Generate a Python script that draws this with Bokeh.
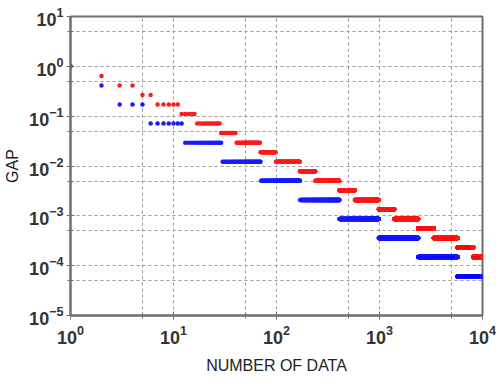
import numpy as np
from bokeh.plotting import figure
from bokeh.models import FixedTicker
from bokeh.embed import file_html
from bokeh.resources import INLINE

# Step segments: first N, last N, gap value
blue_start = [1, 2, 3, 6, 13, 30, 71, 170, 409, 986, 2379, 5742]
blue_end = [1, 2, 5, 12, 29, 70, 169, 408, 985, 2378, 5741, 10000]
blue_gap = [1.0, 0.414, 0.172, 0.0711, 0.0294, 0.0122, 0.00505, 0.00209,
            0.000867, 0.000359, 0.000149, 0.0000616]

red_start = [1, 2, 3, 5, 7, 12, 17, 29, 41, 70, 99, 169, 239, 408, 577, 985,
             1393, 2378, 3363, 5741, 8119]
red_end = [1, 2, 4, 6, 11, 16, 28, 40, 69, 98, 168, 238, 407, 576, 984, 1392,
           2377, 3362, 5740, 8118, 10000]
red_gap = [1.0, 0.643, 0.414, 0.267, 0.172, 0.110, 0.0711, 0.0457, 0.0294,
           0.0189, 0.0122, 0.00785, 0.00505, 0.00325, 0.00209, 0.00135,
           0.000867, 0.000557, 0.000359, 0.000231, 0.000149]

x_ticks = [1, 10, 100, 1000, 10000]
x_minor = [5, 50, 500, 5000]
y_ticks = [1e-5, 1e-4, 1e-3, 1e-2, 1e-1, 1, 10]
y_minor = [5e-5, 5e-4, 5e-3, 5e-2, 5e-1, 5]


def expand(starts, ends, gaps):
    xs, ys = [], []
    for s, e, g in zip(starts, ends, gaps):
        n = np.arange(s, e + 1)
        xs.append(n)
        ys.append(np.full(len(n), g))
    return np.concatenate(xs), np.concatenate(ys)


rx, ry = expand(red_start, red_end, red_gap)
bx, by = expand(blue_start, blue_end, blue_gap)

p = figure(x_axis_type="log", y_axis_type="log",
           x_range=(1, 10000), y_range=(1e-5, 10),
           frame_width=412, frame_height=299,
           min_border_left=70, min_border_right=14,
           min_border_top=16, min_border_bottom=65,
           output_backend="svg", toolbar_location=None,
           background_fill_color="white", border_fill_color="white")

p.outline_line_color = "#6e6e6e"
p.outline_line_width = 2

p.xaxis.ticker = FixedTicker(ticks=x_ticks, minor_ticks=x_minor)
p.yaxis.ticker = FixedTicker(ticks=y_ticks, minor_ticks=y_minor)

for g in (p.xgrid, p.ygrid):
    g.grid_line_color = "#9a9a9a"
    g.grid_line_dash = "3 3"
    g.grid_line_width = 1
    g.minor_grid_line_color = "#9a9a9a"
    g.minor_grid_line_dash = "3 3"
    g.minor_grid_line_width = 1

for ax in (p.xaxis, p.yaxis):
    ax.axis_line_color = "#6e6e6e"
    ax.axis_line_width = 2
    ax.major_tick_line_color = "#6e6e6e"
    ax.minor_tick_line_color = "#6e6e6e"
    ax.major_tick_in = 4
    ax.major_tick_out = 4
    ax.minor_tick_in = 3
    ax.minor_tick_out = 3
    ax.major_label_text_font = "Liberation Sans"
    ax.major_label_text_font_size = "18px"
    ax.major_label_text_font_style = "bold"
    ax.major_label_text_color = "#333333"
    ax.axis_label_text_font = "Liberation Sans"
    ax.axis_label_text_font_size = "16px"
    ax.axis_label_text_font_style = "normal"
    ax.axis_label_text_color = "#222222"

p.xaxis.axis_label = "NUMBER OF DATA"
p.yaxis.axis_label = "GAP"
p.xaxis.major_label_standoff = 5
p.yaxis.major_label_standoff = 3
p.xaxis.axis_label_standoff = 10
p.yaxis.axis_label_standoff = 5

p.scatter(x=rx, y=ry, size=4.5, color="#ff1a1a", line_color=None)
p.scatter(x=bx, y=by, size=4.5, color="#1a1aff", line_color=None)

open("out.html", "w").write(file_html(p, INLINE))
